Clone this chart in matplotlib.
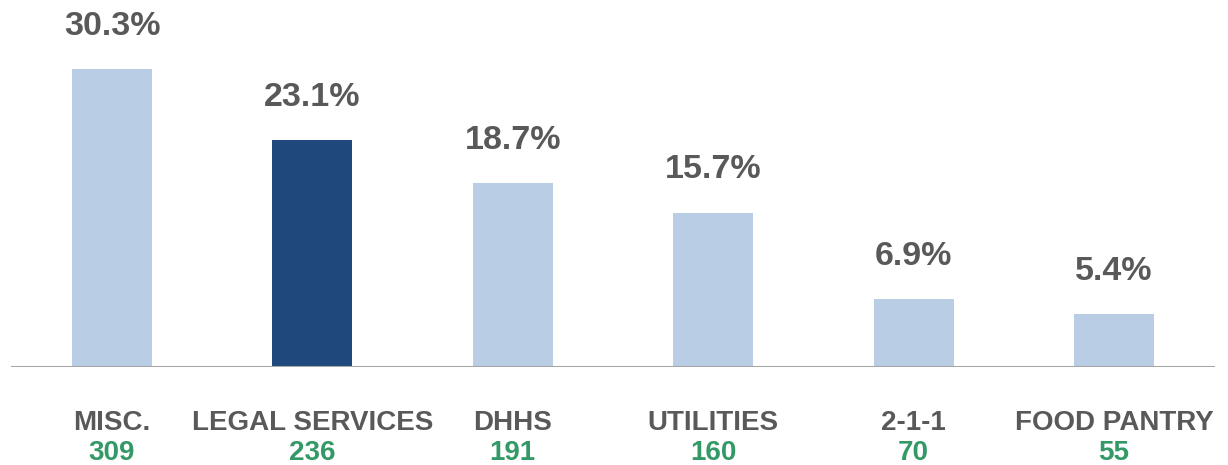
import matplotlib
matplotlib.use("Agg")
import matplotlib.pyplot as plt

categories = ["MISC.", "LEGAL SERVICES", "DHHS", "UTILITIES", "2-1-1", "FOOD PANTRY"]
percentages = [30.3, 23.1, 18.7, 15.7, 6.9, 5.4]
counts = [309, 236, 191, 160, 70, 55]
highlight = "LEGAL SERVICES"

LIGHT = "#B9CDE5"
DARK = "#1F497D"
GRAY = "#595959"
GREEN = "#339966"

plt.rcParams["font.family"] = ["Liberation Sans", "DejaVu Sans"]

fig = plt.figure(figsize=(12.28, 4.65), dpi=100)
ax = fig.add_axes([0.0, 98 / 465, 1.0, 367 / 465])

x = list(range(len(categories)))
colors = [DARK if c == highlight else LIGHT for c in categories]
ax.bar(x, percentages, width=0.4, color=colors, zorder=2)

ax.set_ylim(0, 37.3)
ax.set_xlim(-0.559, 5.569)

for xi, p in zip(x, percentages):
    ax.annotate(f"{p:.1f}%", xy=(xi, p), xytext=(0, 24.5), textcoords="offset points",
                ha="center", va="baseline", fontsize=24.5, fontweight="bold", color=GRAY)

for xi, c, n in zip(x, categories, counts):
    ax.annotate(c, xy=(xi, 0), xycoords=("data", "axes fraction"), xytext=(0, -45.4),
                textcoords="offset points", ha="center", va="baseline",
                fontsize=20, fontweight="bold", color=GRAY, annotation_clip=False)
    ax.annotate(str(n), xy=(xi, 0), xycoords=("data", "axes fraction"), xytext=(0, -67.0),
                textcoords="offset points", ha="center", va="baseline",
                fontsize=20, fontweight="bold", color=GREEN, annotation_clip=False)

for s in ["top", "right", "left", "bottom"]:
    ax.spines[s].set_visible(False)
ax.axhline(0, xmin=12 / 1228, xmax=1214 / 1228, color="#A6A6A6", linewidth=1.5, zorder=3)
ax.set_xticks([])
ax.set_yticks([])
ax.patch.set_alpha(0)

fig.savefig("out.png", dpi=100)
